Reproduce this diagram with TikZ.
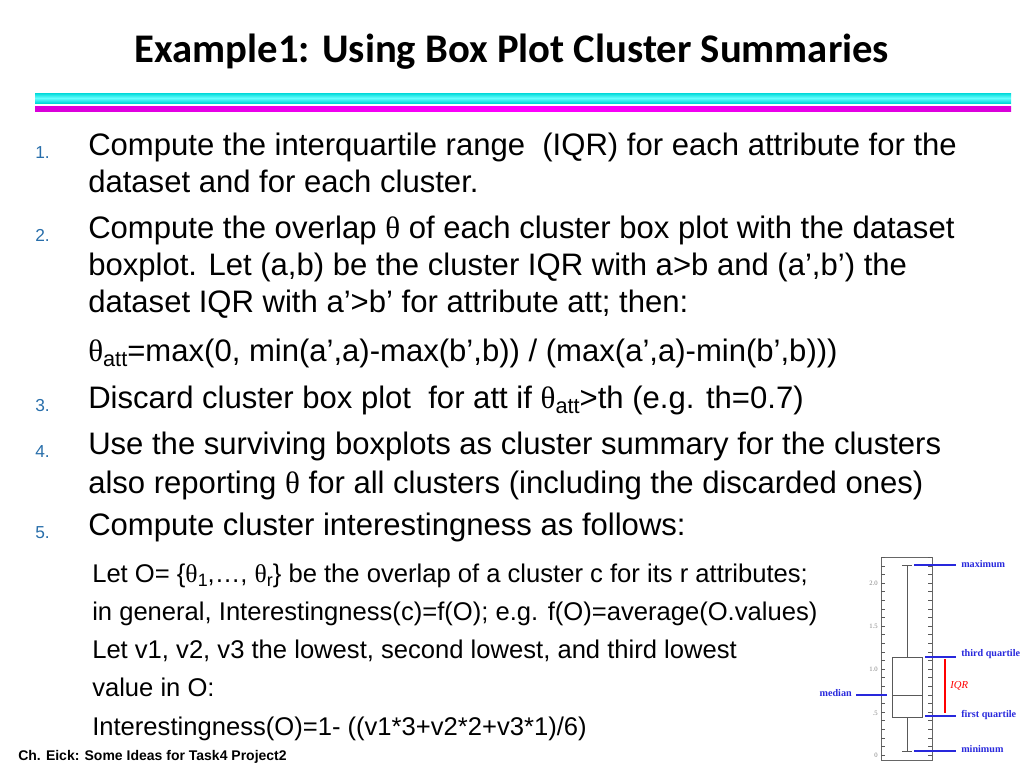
\documentclass[tikz,border=0pt]{standalone}
\usepackage{fontspec}
\setmainfont{Liberation Sans}
\newfontfamily\titlefont{Carlito}
\newfontfamily\serifb{Liberation Serif}
\newcommand{\lowr}[1]{\raisebox{-0.35ex}{\fontsize{0.7em}{1em}\selectfont #1}}
\newcommand{\thet}{{\serifb θ}}
\definecolor{numc}{RGB}{40,110,170}
\definecolor{bplue}{RGB}{40,40,220}
\begin{document}
\begin{tikzpicture}[x=0.75pt,y=-0.75pt,
  body/.style={anchor=base west,inner sep=0,font=\fontsize{23.3}{26}\selectfont},
  sub/.style={anchor=base west,inner sep=0,font=\fontsize{19.2}{22}\selectfont},
  num/.style={anchor=base west,inner sep=0,text=numc,font=\fontsize{13}{15}\selectfont},
  lab/.style={anchor=west,inner sep=0,text=bplue,font=\serifb\bfseries\fontsize{7.6}{8}\selectfont},
  tickl/.style={anchor=east,inner sep=0,text=gray,font=\serifb\fontsize{5}{6}\selectfont},
  bl/.style={bplue,line width=1pt}]
\useasboundingbox (0,0) rectangle (1024,768);
\node[inner sep=0,font=\titlefont\bfseries\fontsize{30.5}{34}\selectfont] (title) at (512,52) {Example1: Using Box Plot Cluster Summaries};
\shade[top color=cyan!70!teal,bottom color=cyan!70!teal,middle color=cyan!60] (35,93) rectangle (1011,103);
\shade[left color=magenta!70!violet,right color=magenta!70!violet,middle color=magenta] (35,106) rectangle (1011,111);
\node[num] (n1) at (35,158) {1.};
\node[body] (t1a) at (88,155) {Compute the interquartile range\ \ (IQR) for each attribute for the};
\node[body] (t1b) at (88,192) {dataset and for each cluster.};
\node[num] (n2) at (35,241) {2.};
\node[body] (t2a) at (88,238) {Compute the overlap \thet\ of each cluster box plot with the dataset};
\node[body] (t2b) at (88,275) {boxplot. Let (a,b) be the cluster IQR with a>b and (a’,b’) the};
\node[body] (t2c) at (88,312) {dataset IQR with a’>b’ for attribute att; then:};
\node[body] (t2d) at (88,361) {\thet\lowr{att}=max(0, min(a’,a)-max(b’,b)) / (max(a’,a)-min(b’,b)))};
\node[num] (n3) at (35,411) {3.};
\node[body] (t3) at (88,408) {Discard cluster box plot\ \ for att if \thet\lowr{att}>th (e.g. th=0.7)};
\node[num] (n4) at (35,457) {4.};
\node[body] (t4a) at (88,454) {Use the surviving boxplots as cluster summary for the clusters};
\node[body] (t4b) at (88,493) {also reporting \thet\ for all clusters (including the discarded ones)};
\node[num] (n5) at (35,538) {5.};
\node[body] (t5) at (88,535) {Compute cluster interestingness as follows:};
\node[sub] (s1) at (92,582) {Let O= \{\thet\lowr{1},…, \thet\lowr{r}\} be the overlap of a cluster c for its r attributes;};
\node[sub] (s2) at (92,620) {in general, Interestingness(c)=f(O); e.g. f(O)=average(O.values)};
\node[sub] (s3) at (92,658) {Let v1, v2, v3 the lowest, second lowest, and third lowest};
\node[sub] (s4) at (92,696) {value in O:};
\node[sub] (s5) at (92,735) {Interestingness(O)=1- ((v1*3+v2*2+v3*1)/6)};
\node[anchor=base west,inner sep=0,font=\bfseries\fontsize{10.5}{12}\selectfont] (foot) at (18,760) {Ch. Eick: Some Ideas for Task4 Project2};
% box plot
\draw[gray!80!black,line width=0.6pt] (881,557) rectangle (932,760);
\foreach \v in {0,...,23}{
  \draw[gray!70!black,line width=0.4pt] (881,{755-8.6*\v}) -- ++(4,0);
  \draw[gray!70!black,line width=0.4pt] (932,{755-8.6*\v}) -- ++(-4,0);}
\node[tickl] (k20) at (878,583) {2.0};
\node[tickl] (k15) at (878,626) {1.5};
\node[tickl] (k10) at (878,669) {1.0};
\node[tickl] (k05) at (878,713) {.5};
\node[tickl] (k00) at (878,755) {0};
\draw[gray!70!black,line width=0.6pt] (902,565) -- (912,565) (907,565) -- (907,657) (907,717) -- (907,751) (902,751) -- (912,751);
\draw[gray!70!black,line width=0.6pt] (892,657) rectangle (922,717) (892,695) -- (922,695);
\node[lab] (mx) at (961,564) {maximum};
\node[lab] (tq) at (961,654) {third quartile};
\node[lab] (fq) at (961,715) {first quartile};
\node[lab] (mn) at (961,749) {minimum};
\node[lab,anchor=east] (md) at (852,693) {median};
\draw[bl] (914,565) -- ([xshift=-4pt]mx.west |- 914,565);
\draw[bl] (925,657) -- ([xshift=-4pt]tq.west |- 925,657);
\draw[bl] (925,716) -- ([xshift=-4pt]fq.west |- 925,716);
\draw[bl] (914,751) -- ([xshift=-4pt]mn.west |- 914,751);
\draw[bl] ([xshift=3pt]md.east |- 855,695) -- (887,695);
\draw[red,line width=1pt] (945,659) -- (945,713);
\node[anchor=west,inner sep=0,text=red,font=\serifb\itshape\fontsize{8}{9}\selectfont] (iqr) at (950,686) {IQR};
\end{tikzpicture}
\end{document}
